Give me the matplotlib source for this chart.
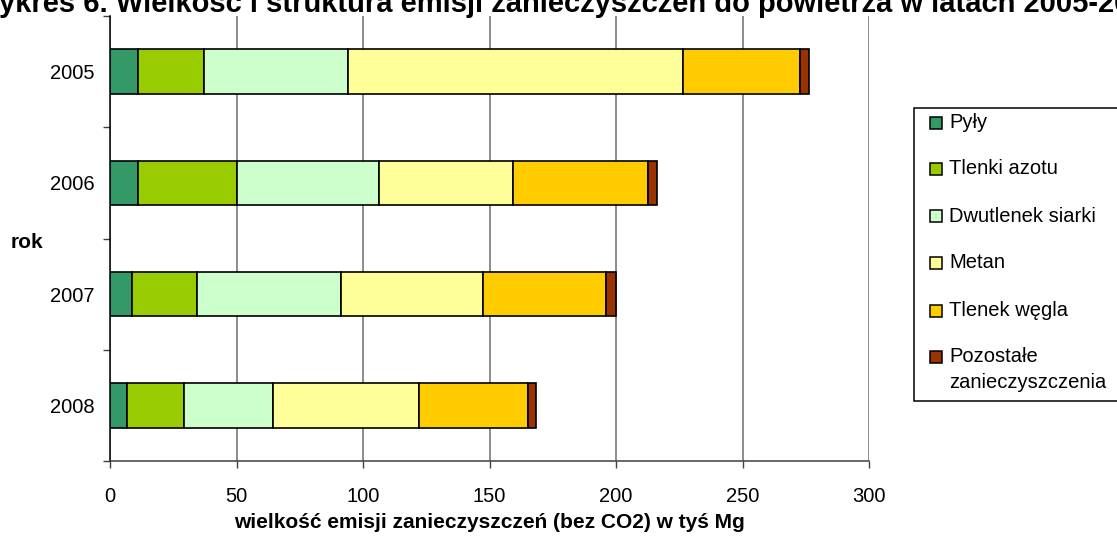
import matplotlib
matplotlib.use('Agg')
import matplotlib.pyplot as plt
from matplotlib.patches import Rectangle
import numpy as np

# ---- data ----
title = 'Wykres 6. Wielkość i struktura emisji zanieczyszczeń do powietrza w latach 2005-2008'
years = ['2005', '2006', '2007', '2008']
series_names = ['Pyły', 'Tlenki azotu', 'Dwutlenek siarki', 'Metan', 'Tlenek węgla',
                'Pozostałe\nzanieczyszczenia']
pyly = [10.9, 10.9, 8.6, 6.6]
tlenki_azotu = [26.1, 39.3, 25.9, 22.8]
dwutlenek_siarki = [57.2, 56.0, 57.0, 34.9]
metan = [132.4, 53.2, 55.8, 57.7]
tlenek_wegla = [46.2, 53.2, 48.7, 43.2]
pozostale = [3.5, 3.8, 4.0, 3.2]
colors = ['#339966', '#99CC00', '#CCFFCC', '#FFFF99', '#FFCC00', '#993300']
x_ticks = [0, 50, 100, 150, 200, 250, 300]
x_label = 'wielkość emisji zanieczyszczeń (bez CO2) w tyś Mg'
y_label = 'rok'

series = [pyly, tlenki_azotu, dwutlenek_siarki, metan, tlenek_wegla, pozostale]

plt.rcParams['font.family'] = ['Liberation Sans', 'DejaVu Sans']

W, H = 1117, 539
fig = plt.figure(figsize=(W / 100, H / 100), dpi=100)
fig.patch.set_facecolor('white')

def fx(px):
    return px / W

def fy(py):
    return 1 - py / H

ax_left, ax_right, ax_top, ax_bottom = 110, 869, 16, 461
ax = fig.add_axes([fx(ax_left), fy(ax_bottom), (ax_right - ax_left) / W, (ax_bottom - ax_top) / H])

y = np.arange(len(years))
left = np.zeros(len(years))
for vals, name, col in zip(series, series_names, colors):
    ax.barh(y, vals, left=left, height=0.4, color=col, edgecolor='black',
            linewidth=1.2, label=name, zorder=3)
    left = left + np.array(vals)

ax.set_xlim(0, 300)
ax.set_ylim(len(years) - 0.5, -0.5)
ax.set_xticks(x_ticks)
ax.set_xticklabels([str(t) for t in x_ticks])
ax.set_yticks(y)
ax.set_yticklabels(years)
ax.set_yticks(np.arange(len(years) + 1) - 0.5, minor=True)

ax.grid(axis='x', color='#6e6e6e', linewidth=1.1, zorder=0)
ax.set_axisbelow(True)

for s in ['top', 'right']:
    ax.spines[s].set_visible(False)
ax.spines['left'].set_color('black')
ax.spines['bottom'].set_color('#404040')
ax.spines['left'].set_linewidth(1.1)
ax.spines['bottom'].set_linewidth(1.1)

ax.tick_params(axis='x', which='major', length=5, width=1, color='#404040',
               direction='out', pad=13.5, labelsize=14.5)
ax.tick_params(axis='y', which='major', length=0, pad=11, labelsize=14.5)
ax.tick_params(axis='y', which='minor', length=5, width=1, color='#404040', direction='out')

ax.set_xlabel(x_label, fontsize=15, fontweight='bold', va='center')
ax.xaxis.set_label_coords(0.5, (ax_bottom - 523) / (ax_bottom - ax_top))
ax.set_ylabel(y_label, fontsize=15, fontweight='bold', rotation=0, va='center', ha='center')
ax.yaxis.set_label_coords((27 - ax_left) / (ax_right - ax_left), (ax_bottom - 243) / (ax_bottom - ax_top))

# title (extends beyond the figure edges as in the reference)
fig.text(fx(-28), fy(12), title, fontsize=21, fontweight='bold', ha='left', va='baseline')

# legend box
frame = Rectangle((fx(914), fy(401)), fx(1140) - fx(914), fy(108) - fy(401),
                  transform=fig.transFigure, facecolor='white', edgecolor='black',
                  linewidth=1.1, zorder=5)
fig.patches.append(frame)
row_y = [123, 169, 216, 263, 311, 357]
for name, col, ry in zip(series_names, colors, row_y):
    sq = Rectangle((fx(930), fy(ry + 6)), 12 / W, 12 / H, transform=fig.transFigure,
                   facecolor=col, edgecolor='black', linewidth=1.1, zorder=6)
    fig.patches.append(sq)
    for i, line in enumerate(name.split('\n')):
        fig.text(fx(949), fy(ry + 26 * i), line, fontsize=14.5, ha='left', va='center', zorder=7)

fig.savefig('out.png', dpi=100)
